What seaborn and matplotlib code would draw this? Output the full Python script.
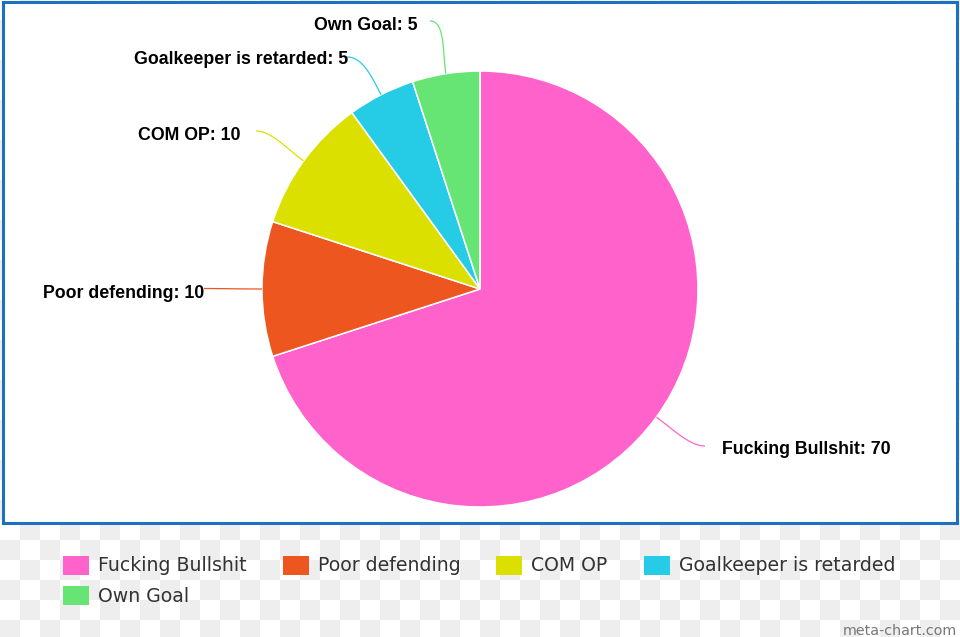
import numpy as np
import matplotlib
matplotlib.use("Agg")
import matplotlib.pyplot as plt
from matplotlib.colors import ListedColormap
from matplotlib.patches import Rectangle, Patch
import seaborn as sns

# ---- data ----
categories = ["Fucking Bullshit", "Poor defending", "COM OP",
              "Goalkeeper is retarded", "Own Goal"]
values = [70, 10, 10, 5, 5]
slice_colors = ["#FF63CB", "#EE561F", "#DCE000", "#26CCE5", "#66E575"]

# ---- layout (pixels) ----
W, H = 960, 637
CX, CY, R = 480, 289, 218
# label anchor (x, baseline y, ha) and connector end point, in pixels
label_anchor = [(722, 454, "left"), (204, 297.5, "right"), (240, 139.5, "right"),
                (348, 64, "right"), (417, 29.5, "right")]
conn_end = [(705, 446), (204, 288.5), (256, 131), (347, 57), (430, 21)]

sns.set_theme(style="white")
palette = sns.color_palette(slice_colors)

fig = plt.figure(figsize=(W / 100, H / 100), dpi=100)

# background: checkerboard + bordered white panel
bg = fig.add_axes([0, 0, 1, 1])
bg.set_xlim(0, W)
bg.set_ylim(H, 0)
bg.axis("off")
ny, nx = int(np.ceil(H / 20)), int(np.ceil(W / 20))
board = (np.add.outer(np.arange(ny), np.arange(nx)) % 2).astype(float)
bg.imshow(board, cmap=ListedColormap(["#FFFFFF", "#EEEEEE"]),
          extent=(0, nx * 20, ny * 20, 0), interpolation="nearest", zorder=0)
bg.add_patch(Rectangle((2.5, 1.5), 954, 521.5, facecolor="white",
                       edgecolor="#1C6FC1", linewidth=2.2, zorder=1))
bg.set_xlim(0, W)
bg.set_ylim(H, 0)
bg.set_aspect("auto")

# pie axes in units of radius
ax = fig.add_axes([0, 0, 1, 1])
ax.patch.set_alpha(0)
wedges, _ = ax.pie(values, colors=palette, startangle=90, counterclock=False,
                   radius=1.0, center=(0, 0),
                   wedgeprops=dict(edgecolor="white", linewidth=1.1))
ax.set_xlim((0 - CX) / R, (W - CX) / R)
ax.set_ylim((CY - H) / R, CY / R)
ax.set_aspect("auto")
ax.axis("off")


def px(x, y):
    return (x - CX) / R, (CY - y) / R


total = float(sum(values))
start = 90.0
for i, (cat, val) in enumerate(zip(categories, values)):
    sweep = 360.0 * val / total
    mid = np.deg2rad(start - sweep / 2)
    start -= sweep
    p0 = np.array([np.cos(mid), np.sin(mid)])
    p3 = np.array(px(*conn_end[i]))
    p1 = p0 + 0.1 * p0
    side = 1 if label_anchor[i][2] == "left" else -1
    p2 = p3 + np.array([-side * 0.07, 0])
    t = np.linspace(0, 1, 60)[:, None]
    curve = ((1 - t) ** 3) * p0 + 3 * ((1 - t) ** 2) * t * p1 + \
        3 * (1 - t) * t ** 2 * p2 + t ** 3 * p3
    ax.plot(curve[:, 0], curve[:, 1], color=palette[i], lw=0.9,
            solid_capstyle="butt")
    lx, ly, ha = label_anchor[i]
    tx, ty = px(lx, ly)
    ax.text(tx, ty, f"{cat}: {val}", ha=ha, va="baseline",
            fontsize=12.8, fontweight="bold", color="#000000",
            family=["Liberation Sans", "DejaVu Sans"])

# legend
order = [0, 4, 1, 2, 3]
handles = [Patch(facecolor=palette[i], edgecolor="none") for i in order]
labels = [categories[i] for i in order]
fs = 13.6
fspx = fs / 72 * 100
hh = (19 / fspx - 0.245) / 0.65
leg = fig.legend(handles, labels, ncol=4, loc="upper left",
                 bbox_to_anchor=(63 / W, 1 - 555.5 / H),
                 frameon=False, fontsize=fs, borderpad=0, borderaxespad=0,
                 handlelength=26 / fspx, handleheight=hh,
                 handletextpad=9 / fspx, columnspacing=36 / fspx,
                 labelspacing=0.55, prop={"family": "DejaVu Sans", "size": fs})
for txt in leg.get_texts():
    txt.set_color("#333333")

fig.text(957 / W, 1 - 635 / H, "meta-chart.com", ha="right", va="baseline",
         fontsize=10.3, color="#777777", family="DejaVu Sans")

fig.savefig("out.png", dpi=100)
